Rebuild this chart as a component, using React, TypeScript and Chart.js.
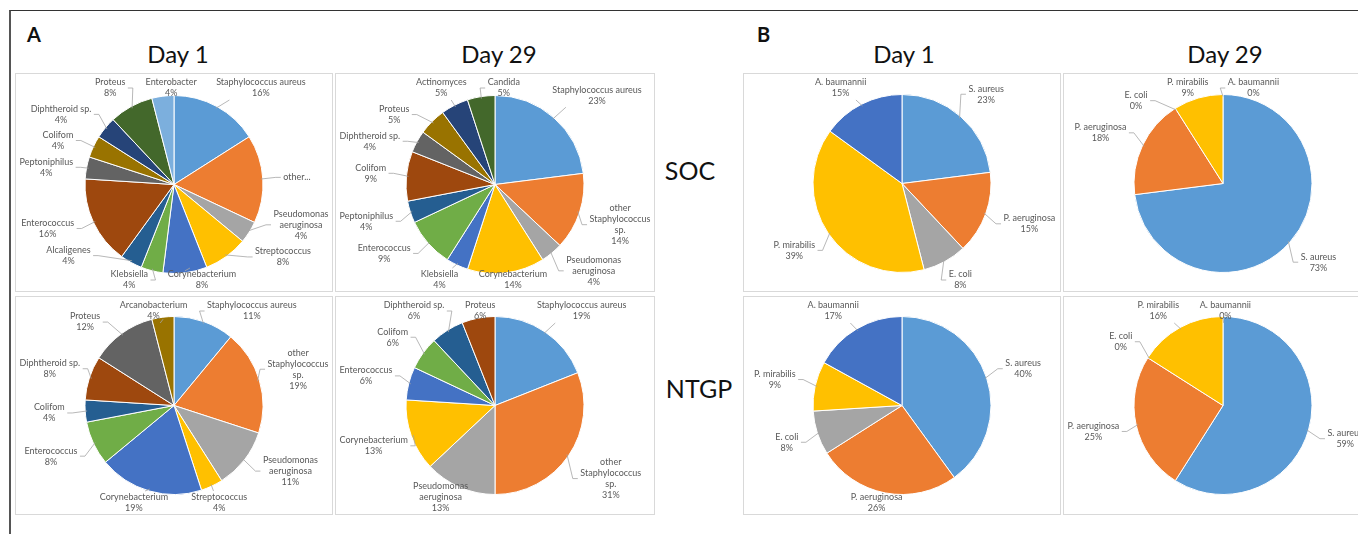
import React, { useEffect, useRef } from "react";
import { Chart, registerables } from "chart.js";

Chart.register(...registerables);

// Excel Office palette (accents, then darker, then lighter)
const palette = [
  "#5B9BD5", "#ED7D31", "#A5A5A5", "#FFC000", "#4472C4", "#70AD47",
  "#255E91", "#9E480E", "#636363", "#997300", "#264478", "#43682B", "#7CAFDD",
];

// ---------- Panel A : SOC ----------
const aSocDay1Categories = [
  "Staphylococcus aureus", "other...", "Pseudomonas\naeruginosa", "Streptococcus",
  "Corynebacterium", "Klebsiella", "Alcaligenes", "Enterococcus", "Peptoniphilus",
  "Colifom", "Diphtheroid sp.", "Proteus", "Enterobacter",
];
const aSocDay1Values = [16, 16, 4, 8, 8, 4, 4, 16, 4, 4, 4, 8, 4];

const aSocDay29Categories = [
  "Staphylococcus aureus", "other\nStaphylococcus\nsp.", "Pseudomonas\naeruginosa",
  "Corynebacterium", "Klebsiella", "Enterococcus", "Peptoniphilus", "Colifom",
  "Diphtheroid sp.", "Proteus", "Actinomyces", "Candida",
];
const aSocDay29Values = [23, 14, 4, 14, 4, 9, 4, 9, 4, 5, 5, 5];

// ---------- Panel A : NTGP ----------
const aNtgpDay1Categories = [
  "Staphylococcus aureus", "other\nStaphylococcus\nsp.", "Pseudomonas\naeruginosa",
  "Streptococcus", "Corynebacterium", "Enterococcus", "Colifom", "Diphtheroid sp.",
  "Proteus", "Arcanobacterium",
];
const aNtgpDay1Values = [11, 19, 11, 4, 19, 8, 4, 8, 12, 4];

const aNtgpDay29Categories = [
  "Staphylococcus aureus", "other\nStaphylococcus\nsp.", "Pseudomonas\naeruginosa",
  "Corynebacterium", "Enterococcus", "Colifom", "Diphtheroid sp.", "Proteus",
];
const aNtgpDay29Values = [19, 31, 13, 13, 6, 6, 6, 6];

// ---------- Panel B ----------
const bCategories = ["S. aureus", "P. aeruginosa", "E. coli", "P. mirabilis", "A. baumannii"];
const bSocDay1Values = [23, 15, 8, 39, 15];
const bSocDay29Values = [73, 18, 0, 9, 0];
const bNtgpDay1Values = [40, 26, 8, 9, 17];
const bNtgpDay29Values = [59, 25, 0, 16, 0];

// ---------- Layout ----------
const LABEL_FONT = "9px Lato";
const LINE_H = 11;
const GAP = 19;
const PAD_X = 16;
const PAD_Y = 4;
const MAX_DRIFT = (55 * Math.PI) / 180;

type PanelDef = {
  left: number; top: number; width: number; height: number;
  cx: number; cy: number; r: number;
  categories: string[]; values: number[];
};

const ROW1 = 73, ROW2 = 296, ROW_H = 219;
const panels: PanelDef[] = [
  { left: 15, top: ROW1, width: 318, height: ROW_H, cx: 174, cy: 184.5, r: 89, categories: aSocDay1Categories, values: aSocDay1Values },
  { left: 335, top: ROW1, width: 320, height: ROW_H, cx: 495, cy: 184.5, r: 89, categories: aSocDay29Categories, values: aSocDay29Values },
  { left: 15, top: ROW2, width: 318, height: ROW_H, cx: 174, cy: 405.5, r: 89, categories: aNtgpDay1Categories, values: aNtgpDay1Values },
  { left: 335, top: ROW2, width: 320, height: ROW_H, cx: 495, cy: 405.5, r: 89, categories: aNtgpDay29Categories, values: aNtgpDay29Values },
  { left: 743, top: ROW1, width: 318, height: ROW_H, cx: 902, cy: 183.5, r: 89, categories: bCategories, values: bSocDay1Values },
  { left: 1063, top: ROW1, width: 320, height: ROW_H, cx: 1223, cy: 183.5, r: 89, categories: bCategories, values: bSocDay29Values },
  { left: 743, top: ROW2, width: 318, height: ROW_H, cx: 902, cy: 405.5, r: 89, categories: bCategories, values: bNtgpDay1Values },
  { left: 1063, top: ROW2, width: 320, height: ROW_H, cx: 1223, cy: 405.5, r: 89, categories: bCategories, values: bNtgpDay29Values },
];

const clamp = (v: number, lo: number, hi: number) => Math.max(lo, Math.min(hi, v));
const normAng = (a: number) => {
  while (a > Math.PI) a -= 2 * Math.PI;
  while (a <= -Math.PI) a += 2 * Math.PI;
  return a;
};

const outsideLabels = {
  id: "outsideLabels",
  beforeDraw(chart: any) {
    const ctx = chart.ctx;
    ctx.save();
    ctx.fillStyle = "#ffffff";
    ctx.fillRect(0, 0, chart.width, chart.height);
    ctx.strokeStyle = "#D9D9D9";
    ctx.lineWidth = 1;
    ctx.strokeRect(0.5, 0.5, chart.width - 1, chart.height - 1);
    ctx.restore();
  },
  afterDatasetsDraw(chart: any) {
    const ctx = chart.ctx;
    const meta = chart.getDatasetMeta(0);
    const data: number[] = chart.data.datasets[0].data;
    const cats: string[] = chart.data.labels;
    const total = data.reduce((a, b) => a + b, 0);
    const W = chart.width, H = chart.height;
    ctx.save();
    ctx.font = LABEL_FONT;
    const items = meta.data.map((arc: any, i: number) => {
      const p = arc.getProps(["x", "y", "startAngle", "endAngle", "outerRadius"], true);
      const mid = (p.startAngle + p.endAngle) / 2;
      const lines = cats[i].split("\n");
      if (!cats[i].endsWith("...")) lines.push(Math.round((data[i] / total) * 100) + "%");
      const w = Math.max(...lines.map((l: string) => ctx.measureText(l).width)) + 3;
      const h = lines.length * LINE_H;
      return { cx: p.x, cy: p.y, r: p.outerRadius, mid, ang: mid, lines, w, h, x: 0, y: 0 };
    });
    const place = (it: any) => {
      it.ang = clamp(it.ang, it.mid - MAX_DRIFT, it.mid + MAX_DRIFT);
      const R = it.r + GAP;
      const c = Math.cos(it.ang), s = Math.sin(it.ang);
      const x = it.cx + R * c + (c * it.w) / 2;
      const y = it.cy + R * s + (s * it.h) / 2;
      it.x = clamp(x, 3 + it.w / 2, W - 3 - it.w / 2);
      it.y = clamp(y, 4 + it.h / 2, H - 1 - it.h / 2);
    };
    items.forEach(place);
    const step = (0.5 * Math.PI) / 180;
    for (let iter = 0; iter < 600; iter++) {
      let moved = false;
      for (let a = 0; a < items.length; a++) {
        for (let b = a + 1; b < items.length; b++) {
          const A = items[a], B = items[b];
          const ox = Math.abs(A.x - B.x) < (A.w + B.w) / 2 + PAD_X;
          const oy = Math.abs(A.y - B.y) < (A.h + B.h) / 2 + PAD_Y;
          if (ox && oy) {
            const d = normAng(B.ang - A.ang);
            if (d >= 0) { A.ang -= step; B.ang += step; } else { A.ang += step; B.ang -= step; }
            moved = true;
          }
        }
      }
      items.forEach(place);
      if (!moved) break;
    }
    // leader lines
    ctx.strokeStyle = "#A6A6A6";
    ctx.lineWidth = 0.8;
    items.forEach((it: any) => {
      const ax = it.cx + Math.cos(it.mid) * (it.r - 2);
      const ay = it.cy + Math.sin(it.mid) * (it.r - 2);
      const dx = it.x - ax, dy = it.y - ay;
      let ex: number, ey: number, kx: number, ky: number;
      if (Math.abs(dx) > it.w / 2 + 2) {
        const sg = Math.sign(dx);
        ex = it.x - sg * (it.w / 2 + 1);
        ey = it.y;
        kx = ex - sg * 5;
        ky = ey;
      } else {
        const sg = Math.sign(dy) || 1;
        ex = ax + dx * 0.3;
        ey = it.y - sg * (it.h / 2 + 1);
        kx = ex;
        ky = ey;
      }
      if (Math.hypot(ex - ax, ey - ay) > 4) {
        ctx.beginPath();
        ctx.moveTo(ax, ay);
        ctx.lineTo(kx, ky);
        ctx.lineTo(ex, ey);
        ctx.stroke();
      }
    });
    // text
    ctx.fillStyle = "#595959";
    ctx.textAlign = "center";
    ctx.textBaseline = "middle";
    items.forEach((it: any) => {
      it.lines.forEach((l: string, k: number) => {
        ctx.fillText(l, it.x, it.y - it.h / 2 + LINE_H * (k + 0.5));
      });
    });
    ctx.restore();
  },
};

function PiePanel({ p }: { p: PanelDef }) {
  const ref = useRef<HTMLCanvasElement | null>(null);
  useEffect(() => {
    if (!ref.current) return;
    const cxRel = p.cx - p.left, cyRel = p.cy - p.top;
    const chart = new Chart(ref.current, {
      type: "pie",
      data: {
        labels: p.categories,
        datasets: [
          {
            data: p.values,
            backgroundColor: palette.slice(0, p.values.length),
            borderColor: "#ffffff",
            borderWidth: 1,
            radius: p.r,
          } as any,
        ],
      },
      options: {
        responsive: false,
        animation: false,
        devicePixelRatio: 1,
        events: [],
        layout: {
          padding: {
            left: cxRel - p.r,
            right: p.width - cxRel - p.r,
            top: cyRel - p.r,
            bottom: p.height - cyRel - p.r,
          },
        },
        plugins: { legend: { display: false }, tooltip: { enabled: false } },
      },
      plugins: [outsideLabels as any],
    });
    return () => chart.destroy();
  }, [p]);
  return (
    <canvas
      ref={ref}
      width={p.width}
      height={p.height}
      style={{ position: "absolute", left: p.left, top: p.top, width: p.width, height: p.height }}
    />
  );
}

function Txt({ text, cx, left, baseline, size, bold }: { text: string; cx?: number; left?: number; baseline: number; size: number; bold?: boolean }) {
  const top = baseline - size * 0.887;
  const style: React.CSSProperties = {
    position: "absolute",
    top,
    fontSize: size,
    lineHeight: `${size}px`,
    fontWeight: bold ? 700 : 400,
    fontFamily: "Lato, sans-serif",
    color: "#111",
    whiteSpace: "nowrap",
  };
  if (cx !== undefined) {
    style.left = cx - 100;
    style.width = 200;
    style.textAlign = "center";
  } else {
    style.left = left;
  }
  return <div style={style}>{text}</div>;
}

export default function App() {
  return (
    <div style={{ position: "fixed", left: 0, top: 0, width: 1358, height: 534, overflow: "hidden", background: "#fff" }}>
      <div style={{ position: "absolute", left: 9, top: 10, width: 1400, height: 600, borderTop: "1px solid #333", borderLeft: "2px solid #555" }} />
      <Txt text="A" left={27} baseline={42} size={20} bold />
      <Txt text="B" left={757} baseline={42} size={20} bold />
      <Txt text="Day 1" cx={178} baseline={63} size={24} />
      <Txt text="Day 29" cx={499} baseline={63} size={24} />
      <Txt text="Day 1" cx={904} baseline={63} size={24} />
      <Txt text="Day 29" cx={1225} baseline={63} size={24} />
      <Txt text="SOC" cx={690} baseline={180} size={25} />
      <Txt text="NTGP" cx={699} baseline={398} size={25} />
      {panels.map((p, i) => (
        <PiePanel key={i} p={p} />
      ))}
    </div>
  );
}
